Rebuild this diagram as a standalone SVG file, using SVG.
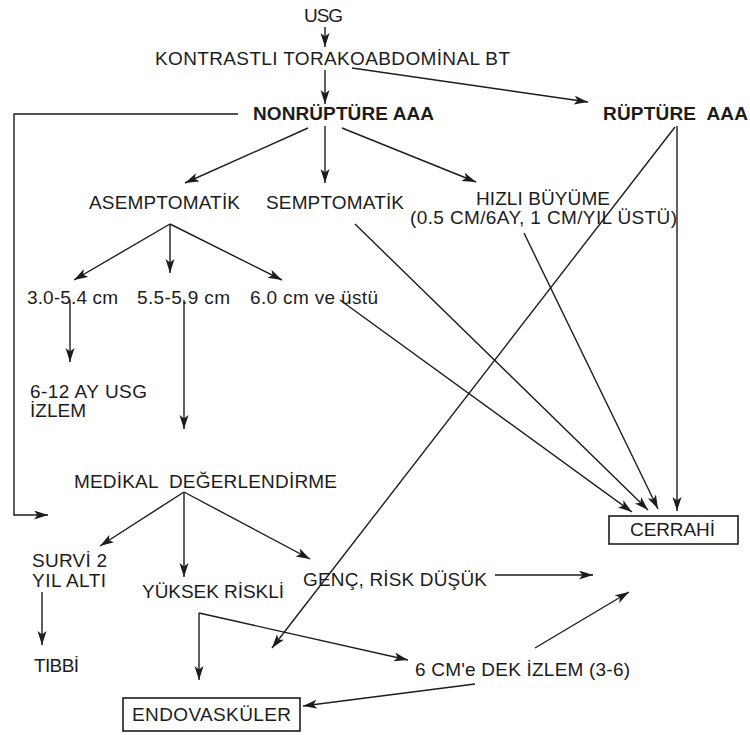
<svg xmlns="http://www.w3.org/2000/svg" width="750" height="735" viewBox="0 0 750 735">
<style>
text{font-family:"Liberation Sans",Arial,sans-serif;font-size:19px;fill:#1c1c1c;white-space:pre}
.b{font-weight:bold}
.c{fill:none;stroke:#1c1c1c;stroke-width:1.4}
.box{fill:#fff;stroke:#1c1c1c;stroke-width:1.6}
</style>
<defs>
<marker id="ah" markerUnits="userSpaceOnUse" markerWidth="15" markerHeight="10" refX="14" refY="4.5" orient="auto">
<path d="M0,0 L14,4.5 L0,9 L3.5,4.5 z" fill="#1c1c1c"/>
</marker>
</defs>
<rect width="750" height="735" fill="#fff"/>
<g id="connectors">
<line class="c" x1="325" y1="27" x2="325" y2="47" marker-end="url(#ah)"/>
<line class="c" x1="325" y1="70" x2="325" y2="104" marker-end="url(#ah)"/>
<line class="c" x1="352" y1="68" x2="588" y2="102" marker-end="url(#ah)"/>
<polyline class="c" points="238,114 14,114 14,515 48,515" marker-end="url(#ah)"/>
<line class="c" x1="308" y1="128" x2="185" y2="183" marker-end="url(#ah)"/>
<line class="c" x1="325" y1="126" x2="325" y2="183" marker-end="url(#ah)"/>
<line class="c" x1="342" y1="128" x2="476" y2="182" marker-end="url(#ah)"/>
<line class="c" x1="170" y1="224" x2="74" y2="280" marker-end="url(#ah)"/>
<line class="c" x1="170" y1="224" x2="170" y2="273" marker-end="url(#ah)"/>
<line class="c" x1="170" y1="224" x2="282" y2="280" marker-end="url(#ah)"/>
<line class="c" x1="70" y1="300" x2="70" y2="362" marker-end="url(#ah)"/>
<line class="c" x1="184" y1="300" x2="184" y2="429" marker-end="url(#ah)"/>
<line class="c" x1="340" y1="300" x2="632" y2="512" marker-end="url(#ah)"/>
<line class="c" x1="355" y1="224" x2="648" y2="510" marker-end="url(#ah)"/>
<line class="c" x1="524" y1="233" x2="658" y2="509" marker-end="url(#ah)"/>
<line class="c" x1="677" y1="126" x2="677" y2="511" marker-end="url(#ah)"/>
<line class="c" x1="675" y1="127" x2="272" y2="648" marker-end="url(#ah)"/>
<line class="c" x1="184" y1="492" x2="100" y2="546" marker-end="url(#ah)"/>
<line class="c" x1="184" y1="492" x2="184" y2="577" marker-end="url(#ah)"/>
<line class="c" x1="184" y1="492" x2="310" y2="559" marker-end="url(#ah)"/>
<line class="c" x1="42" y1="592" x2="42" y2="645" marker-end="url(#ah)"/>
<line class="c" x1="495" y1="575" x2="593" y2="575" marker-end="url(#ah)"/>
<line class="c" x1="199" y1="613" x2="199" y2="680" marker-end="url(#ah)"/>
<line class="c" x1="199" y1="613" x2="408" y2="660" marker-end="url(#ah)"/>
<line class="c" x1="535" y1="648" x2="629" y2="592" marker-end="url(#ah)"/>
<line class="c" x1="475" y1="684" x2="303" y2="706" marker-end="url(#ah)"/>
</g>
<g id="usg"><text x="304" y="22" textLength="39" lengthAdjust="spacing">USG</text></g>
<g id="bt"><text x="155" y="65" textLength="355" lengthAdjust="spacing">KONTRASTLI TORAKOABDOMİNAL BT</text></g>
<g id="nonrupture"><text class="b" x="253" y="120" textLength="181" lengthAdjust="spacing">NONRÜPTÜRE AAA</text></g>
<g id="rupture"><text class="b" x="603" y="120" textLength="145" lengthAdjust="spacing">RÜPTÜRE  AAA</text></g>
<g id="asemptomatik"><text x="89" y="209" textLength="151" lengthAdjust="spacing">ASEMPTOMATİK</text></g>
<g id="semptomatik"><text x="266" y="209" textLength="138" lengthAdjust="spacing">SEMPTOMATİK</text></g>
<g id="hizli"><text x="476" y="205" textLength="134" lengthAdjust="spacing">HIZLI BÜYÜME</text><text x="410" y="224" textLength="267" lengthAdjust="spacing">(0.5 CM/6AY, 1 CM/YIL ÜSTÜ)</text></g>
<g id="s1"><text x="27" y="304" textLength="91" lengthAdjust="spacing">3.0-5.4 cm</text></g>
<g id="s2"><text x="137" y="304" textLength="93" lengthAdjust="spacing">5.5-5.9 cm</text></g>
<g id="s3"><text x="250" y="304" textLength="128" lengthAdjust="spacing">6.0 cm ve üstü</text></g>
<g id="izlem"><text x="30" y="398" textLength="117" lengthAdjust="spacing">6-12 AY USG</text><text x="30" y="417" textLength="56" lengthAdjust="spacing">İZLEM</text></g>
<g id="medikal"><text x="74" y="488" textLength="263" lengthAdjust="spacing">MEDİKAL  DEĞERLENDİRME</text></g>
<g id="survi"><text x="32" y="567" textLength="75" lengthAdjust="spacing">SURVİ 2</text><text x="32" y="587" textLength="74" lengthAdjust="spacing">YIL ALTI</text></g>
<g id="yuksek"><text x="142" y="598" textLength="142" lengthAdjust="spacing">YÜKSEK RİSKLİ</text></g>
<g id="genc"><text x="303" y="586" textLength="184" lengthAdjust="spacing">GENÇ, RİSK DÜŞÜK</text></g>
<g id="tibbi"><text x="34" y="672" textLength="45" lengthAdjust="spacing">TIBBİ</text></g>
<g id="dek"><text x="415" y="676" textLength="215" lengthAdjust="spacing">6 CM'e DEK İZLEM (3-6)</text></g>
<g id="cerrahi"><rect class="box" x="609" y="516" width="129" height="28"/><text x="630" y="536" textLength="85" lengthAdjust="spacing">CERRAHİ</text></g>
<g id="endo"><rect class="box" x="123" y="698" width="177" height="33"/><text x="132" y="721" textLength="159" lengthAdjust="spacing">ENDOVASKÜLER</text></g>
</svg>
